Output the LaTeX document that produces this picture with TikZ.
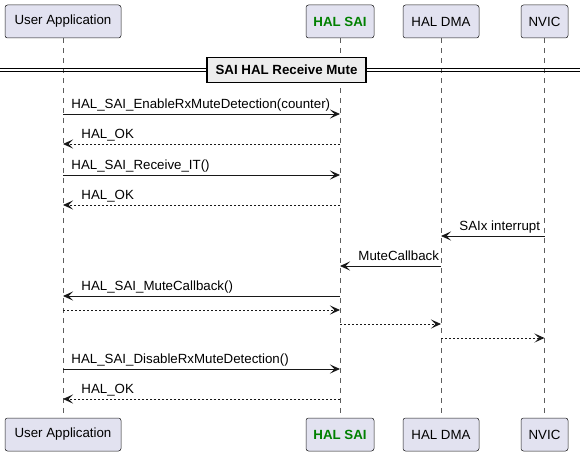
\documentclass[tikz,border=0pt]{standalone}
\usepackage{fontspec}
\setmainfont{Liberation Sans}
\usepackage{xcolor}
\usepackage{tikz}
\usetikzlibrary{arrows.meta,positioning,calc}
\definecolor{partfill}{HTML}{E2E2F0}
\definecolor{partline}{HTML}{181818}
\definecolor{saigreen}{HTML}{008000}

\begin{document}
\begin{tikzpicture}[
  x=1pt, y=-1pt,
  every node/.style={font=\fontsize{13.3}{16}\selectfont},
  part/.style={draw=partline, fill=partfill, rounded corners=2.5pt, line width=0.5pt,
    minimum height=33pt, inner xsep=4pt},
  lifeline/.style={draw=partline!70, dash pattern=on 5pt off 5pt, line width=0.5pt},
  call/.style={-{Stealth[length=10pt,width=9pt,inset=4.5pt]}, line width=0.9pt, draw=partline},
  reply/.style={call, dash pattern=on 2pt off 2pt},
  fwd/.style={anchor=base west, inner sep=0pt, at start, xshift=8pt, yshift=5.5pt},
  back/.style={anchor=base west, inner sep=0pt, at end, xshift=18pt, yshift=5.5pt},
  divider/.style={draw=black, fill=black!7, line width=1.5pt,
    font=\fontsize{13.3}{16}\selectfont\bfseries, minimum height=25pt, minimum width=159pt},
]
\useasboundingbox (0,0) rectangle (580,452);

% Participants, top and bottom
\foreach \p/\x in {ua/63, sai/340, dma/441, nvic/544.5} {
  \coordinate (\p-top) at (\x,21.5);
  \coordinate (\p-bot) at (\x,434.5);
}
\node[part, minimum width=116pt] (ua) at (ua-top) {User Application};
\node[part, minimum width=68pt, text=saigreen, font=\fontsize{13.3}{16}\selectfont\bfseries] (sai) at (sai-top) {HAL SAI};
\node[part, minimum width=76pt] (dma) at (dma-top) {HAL DMA};
\node[part, minimum width=47pt] (nvic) at (nvic-top) {NVIC};
\node[part, minimum width=116pt] (ua-b) at (ua-bot) {User Application};
\node[part, minimum width=68pt, text=saigreen, font=\fontsize{13.3}{16}\selectfont\bfseries] (sai-b) at (sai-bot) {HAL SAI};
\node[part, minimum width=76pt] (dma-b) at (dma-bot) {HAL DMA};
\node[part, minimum width=47pt] (nvic-b) at (nvic-bot) {NVIC};

% Lifelines
\foreach \p in {ua,sai,dma,nvic}
  \draw[lifeline] (\p.south) -- (\p-b.north);

% Divider
\coordinate (div) at (286.5,70);
\draw[black, line width=0.8pt] (0,68.7) -- (580,68.7) (0,71.4) -- (580,71.4);
\node[divider] (sep) at (div) {SAI HAL Receive Mute};

% Message rows
\foreach \i/\y in {1/114, 2/144, 3/175, 4/205, 5/236, 6/266, 7/296,
                   8/310, 9/324, 10/338, 11/369, 12/399}
  \coordinate (m\i) at (0,\y);

\draw[call]  (ua |- m1)  -- node[fwd] {HAL\_SAI\_EnableRxMuteDetection(counter)} (sai |- m1);
\draw[reply] (sai |- m2) -- node[back] {HAL\_OK} (ua |- m2);
\draw[call]  (ua |- m3)  -- node[fwd] {HAL\_SAI\_Receive\_IT()} (sai |- m3);
\draw[reply] (sai |- m4) -- node[back] {HAL\_OK} (ua |- m4);
\draw[call]  (nvic |- m5) -- node[back] {SAIx interrupt} (dma |- m5);
\draw[call]  (dma |- m6) -- node[back] {MuteCallback} (sai |- m6);
\draw[call]  (sai |- m7) -- node[back] {HAL\_SAI\_MuteCallback()} (ua |- m7);
\draw[reply] (ua |- m8)  -- (sai |- m8);
\draw[reply] (sai |- m9) -- (dma |- m9);
\draw[reply] (dma |- m10) -- (nvic |- m10);
\draw[call]  (ua |- m11) -- node[fwd] {HAL\_SAI\_DisableRxMuteDetection()} (sai |- m11);
\draw[reply] (sai |- m12) -- node[back] {HAL\_OK} (ua |- m12);
\end{tikzpicture}
\end{document}
